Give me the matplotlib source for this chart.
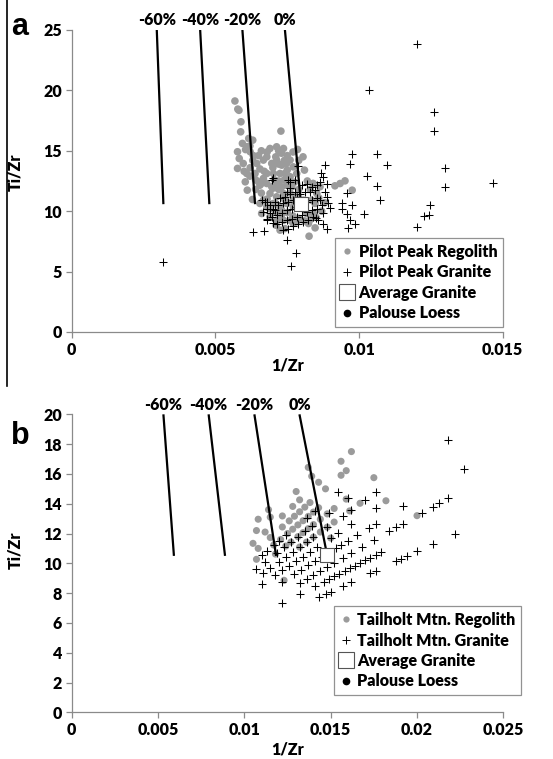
import matplotlib
matplotlib.use("Agg")
import matplotlib.pyplot as plt
from matplotlib.lines import Line2D

plt.rcParams['font.family'] = ['Lato', 'DejaVu Sans']
plt.rcParams['font.weight'] = 'bold'

# ---------------- data ----------------
pct_labels = ['-60%', '-40%', '-20%', '0%']

# panel a: Pilot Peak
a_line_top_x = [0.00296, 0.00447, 0.00594, 0.00742]
a_line_bot_x = [0.00319, 0.00479, 0.00638, 0.00798]
a_line_top_y = 25.0
a_line_bot_y = 10.58
a_avg_granite = (0.00798, 10.58)

a_regolith = [
    (0.00568, 19.12), (0.00578, 18.45), (0.00582, 18.35), (0.00589, 17.40), (0.00588, 16.57),
    (0.00594, 15.61), (0.00728, 16.63), (0.00577, 14.92), (0.00577, 13.54), (0.00583, 14.36),
    (0.00597, 13.95), (0.00609, 13.12), (0.00604, 12.43), (0.00611, 11.74), (0.00629, 10.97),
    (0.00616, 16.02), (0.0063, 15.88), (0.00609, 15.33), (0.00621, 14.92), (0.00644, 13.95),
    (0.00638, 13.12), (0.0065, 12.43), (0.00655, 12.15), (0.00667, 14.23), (0.00679, 14.50),
    (0.0069, 15.19), (0.00713, 15.33), (0.00737, 15.19), (0.00696, 13.95), (0.00713, 14.23),
    (0.00731, 13.81), (0.00748, 13.95), (0.0076, 14.23), (0.00771, 13.67), (0.00786, 15.11),
    (0.00805, 14.50), (0.00783, 13.12), (0.0076, 12.85), (0.00742, 13.12), (0.00725, 13.12),
    (0.00702, 13.12), (0.00679, 13.12), (0.00667, 12.71), (0.00679, 12.29), (0.00696, 12.02),
    (0.00713, 12.15), (0.00731, 12.02), (0.00748, 12.15), (0.00766, 12.02), (0.00737, 11.46),
    (0.00713, 11.19), (0.0069, 11.46), (0.00667, 10.91), (0.00679, 10.36), (0.00702, 10.64),
    (0.00725, 10.36), (0.00748, 10.64), (0.00771, 10.36), (0.00655, 10.64), (0.00661, 9.81),
    (0.0069, 9.53), (0.00713, 9.25), (0.00737, 9.25), (0.0076, 9.25), (0.00783, 9.12),
    (0.00818, 9.81), (0.00824, 8.98), (0.00806, 10.91), (0.00835, 10.91), (0.00853, 11.46),
    (0.00864, 12.02), (0.00847, 10.64), (0.00841, 9.81), (0.00847, 8.62), (0.00826, 7.93),
    (0.00742, 8.56), (0.00771, 8.98), (0.00916, 12.10), (0.00934, 12.29), (0.00951, 12.51),
    (0.00976, 11.74), (0.00711, 8.84), (0.00725, 8.43), (0.00621, 13.6), (0.00632, 14.6),
    (0.00655, 13.5), (0.0067, 13.3), (0.00705, 12.6), (0.0072, 12.5), (0.0074, 12.6),
    (0.00755, 12.5), (0.00775, 12.4), (0.0079, 11.8), (0.0078, 11.2), (0.0076, 11.5),
    (0.0072, 11.8), (0.007, 11.9), (0.0074, 11.0), (0.0077, 10.9), (0.0069, 10.2),
    (0.0071, 9.9), (0.0073, 9.7), (0.0075, 9.9), (0.0077, 9.6), (0.0079, 9.4),
    (0.0081, 9.2), (0.0066, 11.5), (0.0064, 11.8), (0.0062, 12.9), (0.006, 13.3),
    (0.0075, 14.6), (0.0073, 14.8), (0.0071, 14.5), (0.0068, 14.9), (0.0077, 14.9),
    (0.0079, 14.2), (0.0081, 13.4), (0.0082, 12.5), (0.0083, 11.8), (0.0084, 12.3),
    (0.0086, 11.1), (0.0088, 10.7), (0.0087, 10.0), (0.0085, 9.5), (0.0083, 9.3),
    (0.0063, 14.2), (0.00605, 15.1), (0.0066, 15.0), (0.0072, 15.0), (0.0074, 14.2),
    (0.0062, 15.4), (0.0065, 14.6), (0.0070, 13.6), (0.0072, 13.9), (0.0075, 13.4),
    (0.0068, 11.0), (0.0071, 10.6), (0.0073, 10.1), (0.0066, 12.3), (0.0064, 12.6),
]

a_granite = [
    (0.00789, 13.76), (0.00702, 12.71), (0.0076, 12.43), (0.00777, 12.57), (0.008, 12.15),
    (0.00818, 12.29), (0.00835, 12.02), (0.00853, 12.15), (0.00864, 12.43), (0.00847, 11.74),
    (0.00829, 11.60), (0.00812, 11.60), (0.00795, 11.46), (0.00777, 11.60), (0.0076, 11.46),
    (0.00742, 11.19), (0.00725, 11.05), (0.00708, 10.77), (0.0069, 10.50), (0.00679, 10.22),
    (0.00667, 9.94), (0.00673, 10.77), (0.00661, 10.91), (0.00679, 10.77), (0.00864, 10.91),
    (0.00853, 11.05), (0.00835, 10.91), (0.00818, 10.77), (0.008, 10.50), (0.00783, 10.36),
    (0.00766, 10.22), (0.00748, 10.08), (0.00731, 9.81), (0.00713, 9.67), (0.00696, 9.53),
    (0.00679, 9.39), (0.0087, 10.50), (0.00853, 10.22), (0.00835, 10.08), (0.00818, 9.94),
    (0.008, 9.67), (0.00783, 9.53), (0.00766, 9.39), (0.00748, 9.25), (0.00731, 9.12),
    (0.00713, 8.98), (0.00841, 9.53), (0.00824, 9.25), (0.00806, 9.12), (0.00789, 8.98),
    (0.00771, 8.76), (0.00754, 8.56), (0.00737, 8.43), (0.00882, 11.60), (0.00893, 10.64),
    (0.00876, 9.81), (0.00858, 9.25), (0.00771, 10.91), (0.00754, 10.77), (0.00737, 10.64),
    (0.00719, 10.50), (0.00702, 10.22), (0.0069, 9.81), (0.00708, 10.08), (0.00783, 11.19),
    (0.0076, 11.88), (0.00748, 11.60), (0.00697, 12.6), (0.00752, 12.6), (0.00882, 13.81),
    (0.00868, 13.12), (0.00873, 12.8), (0.00887, 12.29), (0.00899, 10.3), (0.00887, 11.2),
    (0.0089, 8.5), (0.00873, 8.9), (0.0085, 9.4), (0.00853, 10.2), (0.0063, 8.3),
    (0.0067, 8.4), (0.0075, 7.65), (0.0078, 6.57), (0.00763, 5.47), (0.00702, 9.0),
    (0.00679, 9.25), (0.00319, 5.77), (0.01201, 23.8), (0.01036, 20.0), (0.01261, 18.2),
    (0.0126, 16.65), (0.01298, 13.6), (0.01298, 12.0), (0.01466, 12.35), (0.01096, 13.8),
    (0.01063, 14.7), (0.00976, 14.7), (0.00969, 13.9), (0.01028, 12.95), (0.01061, 12.1),
    (0.01073, 10.9), (0.01247, 10.5), (0.01245, 9.7), (0.01227, 9.6), (0.01201, 8.65),
    (0.01018, 9.8), (0.00987, 8.9), (0.00961, 8.6), (0.00969, 9.3), (0.00957, 9.8),
    (0.0094, 10.7), (0.0094, 10.15), (0.00977, 10.55), (0.00957, 11.5),
]

# panel b: Tailholt Mtn.
b_line_top_x = [0.00531, 0.00793, 0.01058, 0.01319]
b_line_bot_x = [0.00592, 0.00888, 0.01184, 0.0148]
b_line_top_y = 20.0
b_line_bot_y = 10.5
b_avg_granite = (0.0148, 10.56)

b_regolith = [
    (0.0108, 12.96), (0.0137, 16.44), (0.0114, 13.6),
    (0.0107, 12.2), (0.0115, 13.1), (0.0130, 14.82), (0.0139, 15.85),
    (0.0105, 11.34), (0.0112, 12.1), (0.0122, 13.18), (0.0128, 13.82), (0.0132, 14.26),
    (0.0143, 15.44), (0.0156, 16.85), (0.0162, 17.5),
    (0.0108, 11.0), (0.0115, 11.73), (0.0122, 12.44), (0.0126, 12.85), (0.0129, 13.16),
    (0.0132, 13.46), (0.0135, 13.77), (0.0138, 14.08), (0.0147, 15.0), (0.0156, 15.91),
    (0.0159, 16.22),
    (0.0107, 10.27), (0.0117, 11.23), (0.0121, 11.6), (0.0125, 12.0), (0.0128, 12.29),
    (0.0131, 12.58), (0.0134, 12.86), (0.0137, 13.15), (0.0140, 13.44), (0.0143, 13.73),
    (0.0118, 10.62), (0.0124, 11.16), (0.0127, 11.43), (0.0131, 11.79), (0.0134, 12.06),
    (0.0137, 12.33), (0.0140, 12.6), (0.0144, 12.96), (0.0148, 13.32), (0.0152, 13.68),
    (0.0159, 14.31), (0.0175, 15.75),
    (0.0132, 11.09), (0.0136, 11.42), (0.0140, 11.76), (0.0144, 12.1), (0.0148, 12.43),
    (0.0152, 12.77), (0.0161, 13.52), (0.0167, 14.03),
    (0.0150, 11.7), (0.0182, 14.2), (0.0123, 8.86), (0.0200, 13.2),
]

b_granite = [
    # ~960
    (0.0110, 10.56), (0.0113, 10.85), (0.0117, 11.23), (0.0120, 11.52), (0.0124, 11.90),
    (0.0136, 13.06), (0.0141, 13.54), (0.0154, 14.78),
    # ~900
    (0.0107, 9.63), (0.0112, 10.08), (0.0119, 10.71), (0.0123, 11.07), (0.0127, 11.43),
    (0.0131, 11.79), (0.0135, 12.15), (0.0139, 12.51), (0.0149, 13.41), (0.0160, 14.4),
    # ~840
    (0.0111, 9.32), (0.0115, 9.66), (0.0120, 10.08), (0.0124, 10.42), (0.0128, 10.75),
    (0.0132, 11.09), (0.0136, 11.42), (0.0140, 11.76), (0.0148, 12.43), (0.0157, 13.19),
    (0.0162, 13.61), (0.0170, 14.28), (0.0176, 14.78), (0.0218, 18.31),
    # ~780
    (0.0110, 8.58), (0.0118, 9.20), (0.0122, 9.52), (0.0126, 9.83), (0.0130, 10.14),
    (0.0134, 10.45), (0.0138, 10.76), (0.0142, 11.08), (0.0150, 11.70), (0.0154, 12.01),
    (0.0162, 12.64), (0.0176, 13.73),
    # ~720
    (0.0122, 8.78), (0.0129, 9.29), (0.0133, 9.58), (0.0137, 9.86), (0.0141, 10.15),
    (0.0145, 10.44), (0.0149, 10.73), (0.0153, 11.02), (0.0156, 11.23), (0.0160, 11.52),
    (0.0165, 11.88), (0.0172, 12.38), (0.0176, 12.67), (0.0192, 13.82), (0.0227, 16.34),
    # ~660
    (0.0132, 8.71), (0.0136, 8.98), (0.0140, 9.24), (0.0144, 9.50), (0.0148, 9.77),
    (0.0152, 10.03), (0.0157, 10.36), (0.0162, 10.69), (0.0168, 11.09), (0.0175, 11.55),
    (0.0184, 12.14), (0.0188, 12.41), (0.0192, 12.67), (0.0203, 13.40), (0.0209, 13.79),
    (0.0213, 14.06), (0.0218, 14.39),
    # ~600
    (0.0122, 7.32), (0.0132, 7.92), (0.0141, 8.46), (0.0146, 8.76), (0.0149, 8.94),
    (0.0152, 9.12), (0.0155, 9.30), (0.0158, 9.48), (0.0161, 9.66), (0.0164, 9.84),
    (0.0167, 10.02), (0.0170, 10.20), (0.0173, 10.38), (0.0176, 10.56), (0.0179, 10.74),
    # ~540
    (0.0143, 7.72), (0.0147, 7.94), (0.0150, 8.10), (0.0157, 8.48), (0.0162, 8.75),
    (0.0173, 9.34), (0.0176, 9.50), (0.0188, 10.15), (0.0191, 10.31), (0.0194, 10.48),
    (0.0200, 10.80), (0.0209, 11.29), (0.0222, 11.99),
]

palouse_loess = []  # no points inside the plotted range

a_xticks = [0, 0.005, 0.01, 0.015]
a_xticklabels = ['0', '0.005', '0.01', '0.015']
a_yticks = [0, 5, 10, 15, 20, 25]
b_xticks = [0, 0.005, 0.01, 0.015, 0.02, 0.025]
b_xticklabels = ['0', '0.005', '0.01', '0.015', '0.02', '0.025']
b_yticks = list(range(0, 21, 2))

a_labels = ['Pilot Peak Regolith', 'Pilot Peak Granite', 'Average Granite', 'Palouse Loess']
b_labels = ['Tailholt Mtn. Regolith', 'Tailholt Mtn. Granite', 'Average Granite', 'Palouse Loess']

# ---------------- styling ----------------
REG_C = '#9b9b9b'
SPINE_C = '#8a8a8a'
FS = 11.5

fig = plt.figure(figsize=(5.53, 7.59), dpi=100)
ax_a = fig.add_axes([0.1297, 0.5626, 0.7794, 0.3979])
ax_b = fig.add_axes([0.1297, 0.0615, 0.7805, 0.3926])


def draw_panel(ax, reg, gra, avg, top_x, bot_x, top_y, bot_y, xlim, ylim,
               xticks, xticklabels, yticks, labels, reg_s, label_y, leg_anchor):
    rx = [p[0] for p in reg]
    ry = [p[1] for p in reg]
    gx = [p[0] for p in gra]
    gy = [p[1] for p in gra]
    ax.scatter(rx, ry, s=reg_s, color=REG_C, edgecolors='none', zorder=2)
    for tx, bx, lab in zip(top_x, bot_x, pct_labels):
        ax.plot([tx, bx], [top_y, bot_y], color='black', lw=1.6, zorder=3,
                solid_capstyle='butt')
        ax.text(tx, label_y, lab, ha='center', va='center', fontsize=FS,
                fontweight='heavy', clip_on=False)
    ax.scatter(gx, gy, s=26, marker='+', color='black', linewidths=0.75, zorder=4)
    ax.scatter([avg[0]], [avg[1]], s=110, marker='s', facecolor='white',
               edgecolors='#555555', linewidths=0.8, zorder=5)
    ax.scatter([p[0] for p in palouse_loess], [p[1] for p in palouse_loess],
               s=18, color='black')
    ax.set_xlim(*xlim)
    ax.set_ylim(*ylim)
    ax.set_xticks(xticks)
    ax.set_xticklabels(xticklabels)
    ax.set_yticks(yticks)
    for s in ['top', 'right']:
        ax.spines[s].set_visible(False)
    for s in ['left', 'bottom']:
        ax.spines[s].set_color(SPINE_C)
        ax.spines[s].set_linewidth(0.9)
    ax.tick_params(direction='out', length=4, width=0.9, color=SPINE_C,
                   labelsize=FS, pad=3)
    for t in ax.get_xticklabels() + ax.get_yticklabels():
        t.set_fontweight('heavy')
    ax.set_xlabel('1/Zr', fontsize=FS, fontweight='heavy')
    ax.set_ylabel('Ti/Zr', fontsize=FS, fontweight='heavy')
    hl = [Line2D([], [], ls='none', marker='o', ms=4.5, color=REG_C, mec='none'),
          Line2D([], [], ls='none', marker='+', ms=5.5, color='black', mew=0.7),
          Line2D([], [], ls='none', marker='s', ms=11, mfc='white', mec='#555555', mew=0.8),
          Line2D([], [], ls='none', marker='o', ms=4.5, color='black')]
    leg = ax.legend(hl, labels, loc='lower right', bbox_to_anchor=leg_anchor,
                    frameon=True, fancybox=False, edgecolor='#777777',
                    prop={'size': FS, 'weight': 'heavy'}, handlelength=0.8,
                    handletextpad=0.3, labelspacing=0.28, borderpad=0.35,
                    borderaxespad=0.0)
    leg.get_frame().set_linewidth(0.9)
    return ax


draw_panel(ax_a, a_regolith, a_granite, a_avg_granite, a_line_top_x, a_line_bot_x,
           a_line_top_y, a_line_bot_y, (0, 0.015), (0, 25), a_xticks, a_xticklabels,
           a_yticks, a_labels, 30, 25.8, (1.0, 0.017))
draw_panel(ax_b, b_regolith, b_granite, b_avg_granite, b_line_top_x, b_line_bot_x,
           b_line_top_y, b_line_bot_y, (0, 0.025), (0, 20), b_xticks, b_xticklabels,
           b_yticks, b_labels, 26, 20.65, (1.04, 0.058))

ax_a.xaxis.set_label_coords(0.5, -0.085)
ax_a.yaxis.set_label_coords(-0.112, 0.53)
ax_b.xaxis.set_label_coords(0.5, -0.097)
ax_b.yaxis.set_label_coords(-0.112, 0.545)

fig.text(0.02, 0.965, 'a', fontsize=22, fontweight='bold', family='Liberation Sans',
         ha='left', va='center')
fig.text(0.02, 0.425, 'b', fontsize=22, fontweight='bold', family='Liberation Sans',
         ha='left', va='center')

# left border rule of the original figure
fig.add_artist(Line2D([0.012, 0.012], [1.0, 0.491], transform=fig.transFigure,
                      color='black', lw=1.2))

fig.savefig('out.png', dpi=100)
